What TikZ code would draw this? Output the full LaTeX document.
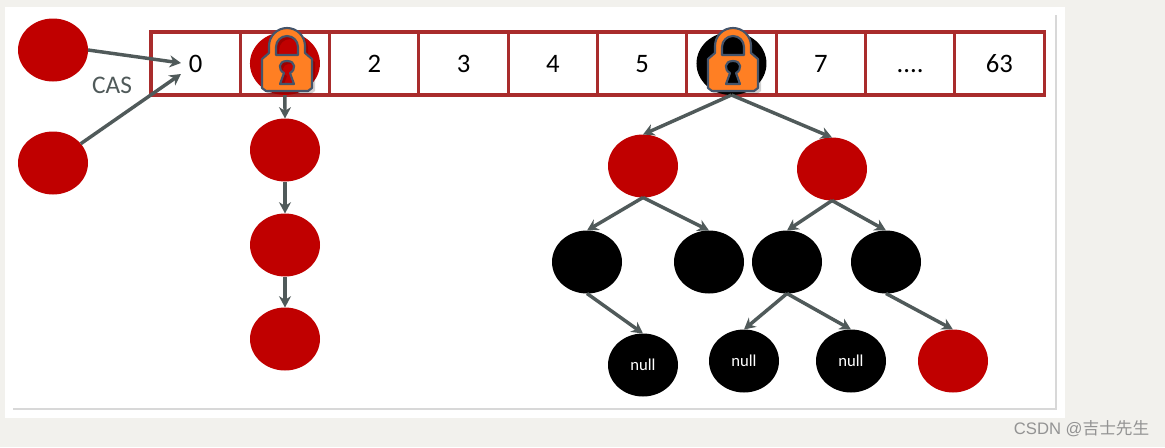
\documentclass[tikz,border=0pt]{standalone}
\usepackage{fontspec}
\setmainfont{Carlito}
\newfontfamily\cjkfont{Noto Sans CJK SC}
\usetikzlibrary{arrows.meta,positioning,shapes.geometric,shadows}
\definecolor{pagegray}{HTML}{F2F1ED}
\definecolor{bucketred}{HTML}{C00000}
\definecolor{slotred}{HTML}{A92C2C}
\definecolor{arrowgray}{HTML}{505A5A}
\definecolor{lockorange}{HTML}{FF7F23}
\definecolor{lockline}{HTML}{44546A}
\newcommand{\lockoutline}{
  (-25,-1) -- (-18,-7) -- (-18,-14) arc[start angle=180,end angle=360,radius=18]
  -- (18,-7) -- (25,-1) -- (25,28) -- (21,31) -- (-21,31) -- (-25,28) -- cycle
  (-11,-5) -- (-11,-13) arc[start angle=180,end angle=360,radius=11] -- (11,-5) -- cycle
  (-3,13) .. controls (-9,10) and (-9,1) .. (0,1) .. controls (9,1) and (9,10) .. (3,13)
  -- (7,24) -- (-7,24) -- cycle
}
\tikzset{
  slotbox/.style={
    draw=slotred,
    line width=2.3pt,
    outer sep=0pt,
    minimum width=66.98pt,
    minimum height=47.25pt,
    inner sep=0pt,
    text height=13pt,
    text depth=0pt,
    font=\fontsize{20}{22}\selectfont
  },
  rednode/.style={
    ellipse,
    fill=bucketred,
    outer sep=0pt,
    minimum width=52.5pt,
    minimum height=47.25pt,
    inner sep=0pt
  },
  blacknode/.style={
    rednode,
    fill=black,
    text=white,
    font=\fontsize{12.5}{14}\selectfont
  },
  linkarrow/.style={
    -{Stealth[length=8.5pt,width=9pt]},
    draw=arrowgray,
    line width=2.6pt
  },
  lockicon/.pic={
    \fill[black,opacity=.18,even odd rule,shift={(3,3)}] \lockoutline;
    \draw[fill=lockorange,draw=lockline,line width=1.6pt,even odd rule,line join=round] \lockoutline;
  }
}
\begin{document}
\begin{tikzpicture}[x=0.75pt,y=-0.75pt]
  \fill[pagegray] (0,0) rectangle (1165,447);
  \fill[white] (5,7) rectangle (1065,418);
  \fill[white,drop shadow={shadow xshift=1.2pt,shadow yshift=-1.2pt,opacity=.3}] (11,13) rectangle (1055,408);

  \node[slotbox] (slot0) at (195.65,63.5) {0};
  \node[slotbox, right=0pt of slot0] (slot1) {};
  \node[slotbox, right=0pt of slot1] (slot2) {2};
  \node[slotbox, right=0pt of slot2] (slot3) {3};
  \node[slotbox, right=0pt of slot3] (slot4) {4};
  \node[slotbox, right=0pt of slot4] (slot5) {5};
  \node[slotbox, right=0pt of slot5] (slot6) {};
  \node[slotbox, right=0pt of slot6] (slot7) {7};
  \node[slotbox, right=0pt of slot7] (slot8) {{.}{.}{.}{.}};
  \node[slotbox, right=0pt of slot8] (slot9) {63};

  \node[rednode] (head) at (slot1) {};
  \node[blacknode] (root) at (slot6) {};
  \pic at (287,60) {lockicon};
  \pic at (733,60) {lockicon};

  \node[rednode] (reqa) at (53,50) {};
  \node[rednode] (reqb) at (53,163) {};
  \coordinate (casa) at (181,63);
  \coordinate (casb) at (181,74);
  \node[font=\fontsize{19}{21}\selectfont, text=arrowgray] (caslabel) at (112,85) {CAS};

  \node[rednode] (lista) at (285,150) {};
  \node[rednode] (listb) at (285,245) {};
  \node[rednode] (listc) at (285,339) {};

  \node[rednode] (treel) at (643,166) {};
  \node[rednode] (treer) at (832,169) {};
  \node[blacknode] (treela) at (587,262) {};
  \node[blacknode] (treelb) at (709,262) {};
  \node[blacknode] (treera) at (787,262) {};
  \node[blacknode] (treerb) at (886,262) {};
  \node[blacknode] (nulla) at (643,365) {null};
  \node[blacknode] (nullb) at (744,361) {null};
  \node[blacknode] (nullc) at (851,361) {null};
  \node[rednode] (leaf) at (953,361) {};

  \draw[linkarrow] (reqa.east) -- (casa);
  \draw[linkarrow] (reqb) -- (casb);
  \draw[linkarrow] (slot1.south) -- (lista.north);
  \draw[linkarrow] (lista.south) -- (listb.north);
  \draw[linkarrow] (listb.south) -- (listc.north);
  \draw[linkarrow] (slot6.south) -- (treel.north);
  \draw[linkarrow] (slot6.south) -- (treer.north);
  \draw[linkarrow] (treel.south) -- (treela.north);
  \draw[linkarrow] (treel.south) -- (treelb.north);
  \draw[linkarrow] (treer.south) -- (treera.north);
  \draw[linkarrow] (treer.south) -- (treerb.north);
  \draw[linkarrow] (treela.south) -- (nulla.north);
  \draw[linkarrow] (treera.south) -- (nullb.north);
  \draw[linkarrow] (treera.south) -- (nullc.north);
  \draw[linkarrow] (treerb.south) -- (leaf.north);

  \node[text=gray!85, font=\fontsize{12.5}{14}\selectfont, anchor=east] (mark) at (1154,429) {\fontspec{Liberation Sans}CSDN @\cjkfont 吉士先生};
\end{tikzpicture}
\end{document}
